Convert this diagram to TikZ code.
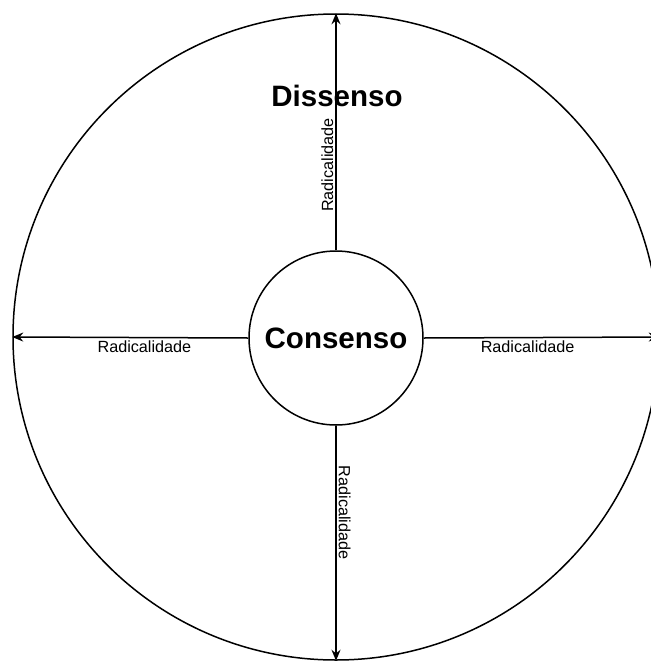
\documentclass[tikz,border=0pt]{standalone}
\usepackage{fontspec}
\setsansfont{Liberation Sans}
\usepackage{tikz}
\usetikzlibrary{arrows.meta}

\tikzset{
    big/.style={font=\sffamily\bfseries\fontsize{29.5}{34}\selectfont},
    small/.style={font=\sffamily\fontsize{16.2}{19}\selectfont, inner sep=2pt}
}

\begin{document}
\begin{tikzpicture}[x=1pt, y=-1pt, line width=1.5pt, >={Stealth[length=11pt,width=9pt]}]
    \useasboundingbox [fill=white] (0,0) rectangle (651,662);
    \node [draw, circle, minimum size=646pt, inner sep=0pt] (outer) at (336,337) {};
    \node [draw, circle, minimum size=174pt, inner sep=0pt, big] (cons) at (336,338) {Consenso};
    \node [big] (diss) at (337,96) {Dissenso};

    \draw [->] (cons.north) -- node [pos=0.36, rotate=90, anchor=south, small] (ltop) {Radicalidade} (outer.north);
    \draw [->] (cons.south) -- node [pos=0.37, rotate=-90, anchor=south, small] (lbot) {Radicalidade} (outer.south);
    \draw [->] (cons.west) -- node [pos=0.44, below, small] (lleft) {Radicalidade} (outer.west);
    \draw [->] (cons.east) -- node [pos=0.44, below, small] (lright) {Radicalidade} (outer.east);
\end{tikzpicture}
\end{document}
